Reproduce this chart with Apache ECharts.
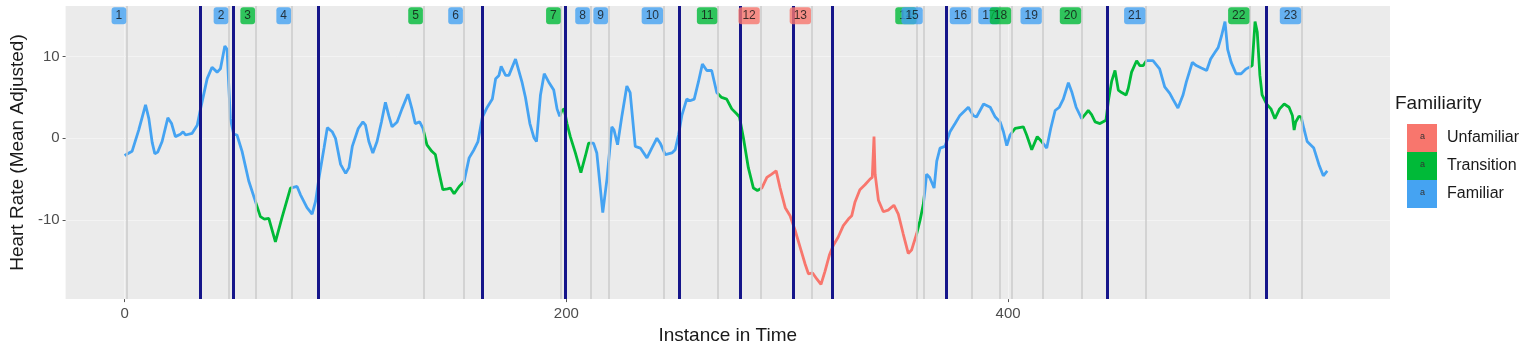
<!DOCTYPE html>
<html>
<head>
<meta charset="utf-8">
<script src="https://cdn.jsdelivr.net/npm/echarts@6/dist/echarts.min.js"></script>
<style>
  html, body { margin: 0; padding: 0; background: #fff; }
  #chart { width: 1535px; height: 350px; }
</style>
</head>
<body>
<div id="chart"></div>
<script>
// heart rate trace
var xs = [0, 3.4, 6.4, 8, 9.5, 11, 12.5, 13.7, 15, 17, 19.6, 21.3, 23, 25.3, 26.5, 27.6, 30.6, 32.9, 34.4, 37.4,
  39.6, 41.9, 43.4, 45.4, 46.4, 47.9, 49.4, 50.9, 53.2, 56.2, 59.2, 61.5, 63.3, 65.3, 68.3, 71.3, 75.1, 78.1, 79.6, 82.6,
  84.9, 86.5, 88, 90.3, 91.8, 94, 95.5, 97.8, 100.1, 101.6, 103.1, 105.8, 107.9, 109.1, 110.6, 112.4, 114.3, 116.3, 118.1, 119.6,
  121.1, 123.4, 125.6, 128.3, 130.1, 131.6, 133.6, 135.1, 136.9, 139.1, 140.7, 142.2, 144.1, 146.2, 147.5, 149.2, 151.5, 153.7, 156, 158.2,
  160, 162, 164.2, 166.5, 167.3, 168, 169.5, 170.5, 172.5, 174, 177, 177.8, 180, 181.5, 183.5, 185.3, 186.5, 188.3, 190, 192,
  194.3, 195.8, 197, 198, 199, 200.3, 201.8, 204.1, 206.6, 208.6, 210.1, 212.3, 213.8, 216.5, 218.4, 220.6, 221.6, 223.2, 225.2, 227.4,
  228.9, 231.2, 233.5, 236.5, 238.7, 241, 242.5, 244.8, 247.8, 249.3, 250.8, 252.3, 254.5, 256, 257.9, 259.8, 261.6, 263.6, 265.8, 268.1,
  270.3, 272.6, 274.9, 277.1, 278.4, 280.2, 282.4, 284.7, 286.5, 288.5, 290.8, 293, 295, 296.8, 299.1, 301.3, 303.6, 305.8, 308.1, 309.6,
  311.5, 313.3, 315.3, 317.1, 319.1, 320.9, 323.1, 325.4, 327.7, 329.2, 330.7, 332.9, 335.2, 337.5, 338.5, 339.3, 339.8, 341.3, 343.5, 345.7,
  348.3, 350.3, 352.5, 354.8, 356.3, 358.6, 360.1, 361.6, 362.3, 363.1, 364.5, 366.5, 367.7, 369.2, 371.4, 373.7, 376, 378.2, 382, 384.2,
  385.7, 388.9, 391.9, 394.2, 396.4, 397.9, 399.4, 400.9, 403.2, 406.9, 408.4, 410.7, 413.2, 415.2, 417.5, 419.3, 421.3, 423.2, 425, 427.3,
  428.8, 430.8, 433.3, 434.8, 436.3, 437.8, 439.4, 441.6, 444.3, 445.4, 446.9, 448.4, 449.9, 451.4, 453.4, 454.4, 455.9, 458.2, 459.6, 461.2,
  462.6, 465.6, 468.6, 470.9, 473.2, 474.6, 476.9, 479.2, 480.7, 483.4, 485.2, 487.5, 489.9, 491.7, 493.6, 495.1, 496.6, 498.2, 499.4, 501,
  503.2, 505.5, 507.8, 509.2, 510.5, 511.8, 512.8, 514, 515, 517, 519, 520.8, 522.9, 525, 527.2, 528.7, 529.5, 530.2, 531.7, 532.7,
  533.9, 535.4, 538.4, 540.7, 542.7, 544.5];
var ys = [-2.1, -1.6, 1.0, 2.6, 4.1, 2.4, -0.5, -1.9, -1.7, -0.4, 2.5, 1.8, 0.2, 0.5, 0.8, 0.4, 0.6, 1.6, 3.6, 7.3,
  8.7, 8.1, 8.5, 11.3, 10.9, 2.4, 0.5, 0.4, -1.6, -5.2, -7.7, -9.6, -9.9, -9.8, -12.7, -9.7, -6.1, -5.9, -6.9, -8.5,
  -9.3, -7.7, -4.9, -1.2, 1.3, 0.8, 0, -3.2, -4.3, -3.6, -1.0, 1.2, 2.0, 1.6, -0.4, -1.8, -0.4, 2.0, 4.4, 2.8,
  1.4, 2.0, 3.6, 5.4, 3.6, 1.8, 2.0, 1.2, -0.8, -1.6, -2.0, -4.0, -6.3, -6.2, -6.1, -6.8, -5.9, -5.3, -2.4, -1.4,
  -0.4, 2.6, 3.8, 4.8, 4.9, 7.3, 7.7, 8.8, 7.7, 7.7, 9.7, 9.5, 6.8, 5.0, 1.8, 0.1, -0.4, 5.3, 7.9, 6.9,
  5.9, 3.6, 2.7, 3.4, 3.6, 1.8, 0.2, -1.8, -4.2, -2.2, -0.6, -0.6, -1.8, -9.1, -5.0, 1.4, 1.0, -0.8, 2.8, 6.4,
  5.6, -1.0, -1.2, -2.4, -1.2, 0, -0.6, -2.0, -1.8, -1.4, 0.4, 2.8, 4.8, 4.6, 4.8, 6.9, 9.1, 8.3, 8.3, 5.6,
  5.0, 4.8, 3.6, 3.0, 2.6, 0, -3.6, -6.1, -6.4, -6.1, -4.8, -4.4, -4.0, -6.1, -8.5, -9.5, -11.3, -13.3, -15.4, -16.6,
  -16.5, -17.2, -17.9, -16.3, -14.3, -13.1, -12.1, -10.7, -9.9, -9.5, -7.8, -6.3, -5.7, -5.0, -4.8, 0.2, -4.4, -7.6, -9.0, -8.8,
  -8.2, -9.3, -11.7, -14.1, -13.7, -11.7, -10.1, -8.1, -6.5, -4.4, -4.8, -6.1, -2.8, -1.2, -1.0, 0.8, 1.8, 2.8, 3.8, 2.8,
  2.6, 4.2, 3.8, 2.6, 2.0, 0.8, -0.9, 0.4, 1.2, 1.4, 0.4, -1.4, 0.2, -0.4, -1.2, 1.2, 3.4, 3.8, 4.8, 6.8,
  5.7, 3.8, 2.4, 2.9, 3.4, 2.9, 2.0, 1.8, 2.2, 4.6, 7.0, 8.3, 5.9, 5.6, 5.3, 6.1, 8.1, 9.5, 8.9, 8.9,
  9.5, 9.5, 8.5, 6.3, 5.5, 4.8, 3.7, 5.3, 6.9, 9.3, 8.9, 8.6, 8.3, 9.7, 10.5, 11.1, 12.5, 14.3, 10.9, 9.3,
  7.9, 7.9, 8.5, 8.7, 8.9, 14.3, 13.0, 7.7, 5.3, 4.2, 3.6, 2.4, 3.6, 4.2, 3.8, 2.8, 1.0, 2.0, 2.7, 2.6,
  1.2, -0.4, -1.2, -3.2, -4.6, -4.0];

// numbered markers along the top
var labelIds = ['1', '2', '3', '4', '5', '6', '7', '8', '9', '10', '11', '12', '13', '14', '15', '16', '17', '18', '19', '20', '21', '22', '23'];
var labelX = [1, 47.2, 59.3, 75.6, 135.3, 153.4, 197.7, 210.9, 219.1, 244, 268.6, 287.8, 311, 358.8, 361.6, 383.5, 396.4, 401.6, 415.5, 433.3, 462.4, 509.5, 532.9];
var labelCat = ['Familiar', 'Familiar', 'Transition', 'Familiar', 'Transition', 'Familiar', 'Transition', 'Familiar', 'Familiar', 'Familiar',
  'Transition', 'Unfamiliar', 'Unfamiliar', 'Transition', 'Familiar', 'Familiar', 'Familiar', 'Transition', 'Familiar', 'Transition',
  'Familiar', 'Transition', 'Familiar'];

// navy event lines
var eventX = [34.1, 49.2, 87.5, 161.9, 199.5, 251.3, 278.7, 302.9, 320.2, 371.9, 445.1, 517.0];

var categories = ['Unfamiliar', 'Transition', 'Familiar'];
var catColors = { Unfamiliar: '#F8766D', Transition: '#00BA38', Familiar: '#45A3F2' };

var xTicks = [0, 200, 400];
var yTicks = [-10, 0, 10];

var chart = echarts.init(document.getElementById('chart'), null, { renderer: 'canvas' });

var lineData = xs.map(function (x, i) { return [x, ys[i]]; });

var pieces = [{ lt: labelX[0], color: catColors[labelCat[0]] }];
for (var i = 0; i < labelX.length; i++) {
  var p = { gte: labelX[i], color: catColors[labelCat[i]] };
  if (i < labelX.length - 1) p.lt = labelX[i + 1];
  pieces.push(p);
}

var labelData = labelX.map(function (x, i) {
  return {
    value: [x, 15.0],
    name: labelIds[i],
    label: { backgroundColor: catColors[labelCat[i]] }
  };
});

var option = {
  animation: false,
  grid: {
    left: 65, right: 145, top: 6, bottom: 48,
    show: true, backgroundColor: '#EBEBEB', borderWidth: 0
  },
  xAxis: {
    type: 'value',
    min: -26.7, max: 572.9,
    name: 'Instance in Time',
    nameLocation: 'middle',
    nameGap: 23,
    nameTextStyle: { fontSize: 19, color: '#1A1A1A', fontFamily: 'Liberation Sans' },
    axisLine: { show: false, onZero: false },
    axisTick: { show: true, length: 3, lineStyle: { color: '#555' }, customValues: xTicks },
    axisLabel: { fontSize: 15, color: '#4D4D4D', margin: 7, fontFamily: 'Liberation Sans', customValues: xTicks },
    splitLine: { show: true, lineStyle: { color: '#F3F3F3', width: 1 } }
  },
  yAxis: {
    type: 'value',
    min: -19.7, max: 16.2,
    name: 'Heart Rate (Mean Adjusted)',
    nameLocation: 'middle',
    nameGap: 24,
    nameTextStyle: { fontSize: 19, color: '#1A1A1A', fontFamily: 'Liberation Sans' },
    axisLine: { show: false, onZero: false },
    axisTick: { show: true, length: 3, lineStyle: { color: '#555' }, customValues: yTicks },
    axisLabel: { fontSize: 15, color: '#4D4D4D', margin: 6, fontFamily: 'Liberation Sans', customValues: yTicks },
    splitLine: { show: true, lineStyle: { color: '#F3F3F3', width: 1 } }
  },
  visualMap: {
    show: false,
    type: 'piecewise',
    seriesIndex: 0,
    dimension: 0,
    pieces: pieces
  },
  legend: {
    orient: 'vertical',
    left: 1407, top: 124,
    padding: 0,
    itemWidth: 30, itemHeight: 28, itemGap: 0,
    icon: 'rect',
    data: categories,
    textStyle: { fontSize: 16, color: '#1A1A1A', fontFamily: 'Liberation Sans', padding: [0, 0, 0, 5] },
    selectedMode: false
  },
  graphic: [
    { type: 'text', left: 1395, top: 94, z: 100, style: { text: 'Familiarity', fontSize: 19, fill: '#1A1A1A', fontFamily: 'Liberation Sans' } },
    { type: 'text', left: 1420, top: 132, z: 100, style: { text: 'a', fontSize: 9, fill: '#333', fontFamily: 'Liberation Sans' } },
    { type: 'text', left: 1420, top: 160, z: 100, style: { text: 'a', fontSize: 9, fill: '#333', fontFamily: 'Liberation Sans' } },
    { type: 'text', left: 1420, top: 188, z: 100, style: { text: 'a', fontSize: 9, fill: '#333', fontFamily: 'Liberation Sans' } }
  ],
  series: [
    {
      name: 'Heart Rate',
      type: 'line',
      data: lineData,
      showSymbol: false,
      z: 3,
      lineStyle: { width: 2.8 },
      silent: true
    },
    {
      name: 'markers',
      type: 'line',
      data: [],
      z: 1,
      markLine: {
        silent: true,
        symbol: ['none', 'none'],
        label: { show: false },
        lineStyle: { color: '#CBCBCB', width: 1.5, type: 'solid' },
        data: labelX.map(function (x) { return { xAxis: x }; })
      }
    },
    {
      name: 'events',
      type: 'line',
      data: [],
      z: 4,
      markLine: {
        silent: true,
        symbol: ['none', 'none'],
        label: { show: false },
        lineStyle: { color: '#15158A', width: 3, type: 'solid' },
        data: eventX.map(function (x) { return { xAxis: x }; })
      }
    },
    {
      name: 'labels',
      type: 'scatter',
      data: labelData,
      symbolSize: 1,
      itemStyle: { color: 'rgba(0,0,0,0)' },
      z: 6,
      silent: true,
      label: {
        show: true,
        position: 'left',
        distance: 0,
        formatter: '{b}',
        fontSize: 12,
        color: '#111',
        fontFamily: 'Liberation Sans',
        padding: [3, 4, 2, 4],
        borderRadius: 3
      },
      labelLayout: { hideOverlap: false }
    },
    { name: 'Unfamiliar', type: 'line', data: [], itemStyle: { color: catColors.Unfamiliar } },
    { name: 'Transition', type: 'line', data: [], itemStyle: { color: catColors.Transition } },
    { name: 'Familiar', type: 'line', data: [], itemStyle: { color: catColors.Familiar } }
  ]
};

chart.setOption(option);
</script>
</body>
</html>
